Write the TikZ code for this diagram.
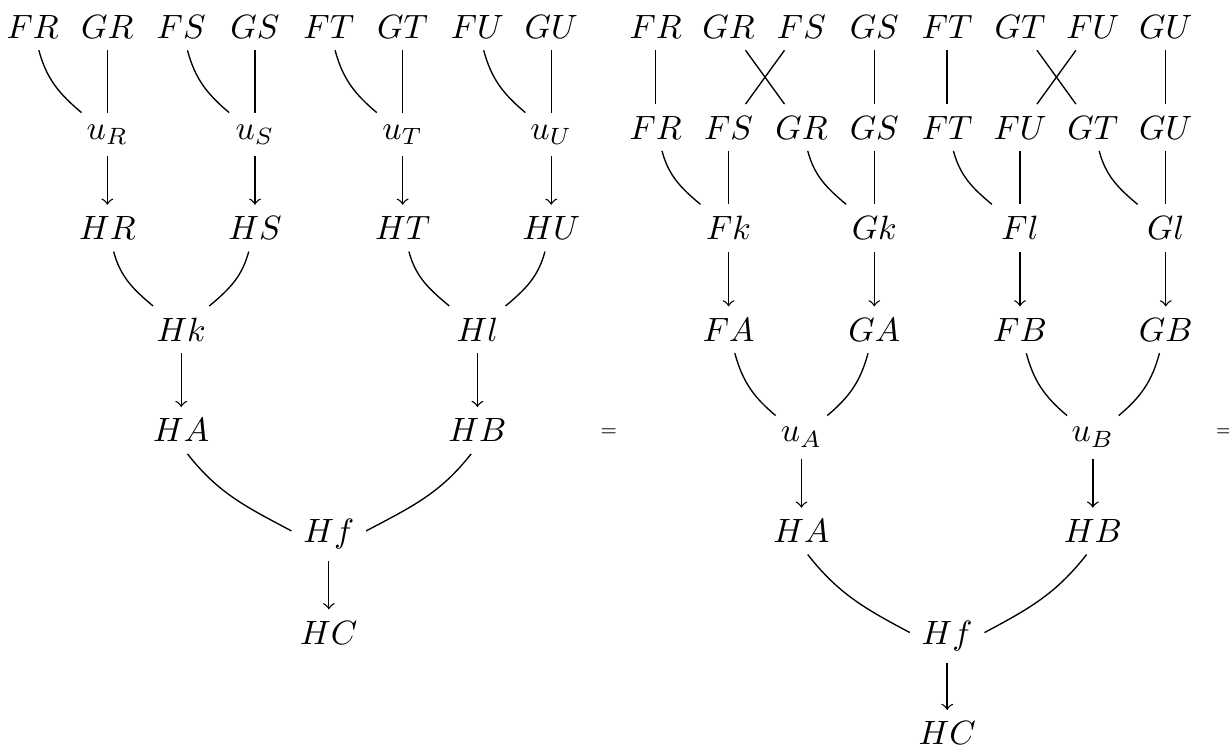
\documentclass[tikz,border=0pt]{standalone}
\usepackage{tikz}

\begin{document}
\begin{tikzpicture}[
    obj/.style={anchor=base},
    wire/.style={thin},
    arrow/.style={thin,->},
    eq/.style={font=\tiny},
    fromleft/.style={out=-75,in=140},
    fromright/.style={out=-105,in=40},
    wideleft/.style={out=-52,in=152},
    wideright/.style={out=-128,in=28}
]
\useasboundingbox (0,0) rectangle (12.82,-7.84);

% Left side, top row
\node[obj] (lFR) at (0.34,-0.40) {$FR$};
\node[obj] (lGR) at (1.12,-0.40) {$GR$};
\node[obj] (lFS) at (1.89,-0.40) {$FS$};
\node[obj] (lGS) at (2.66,-0.40) {$GS$};
\node[obj] (lFT) at (3.43,-0.40) {$FT$};
\node[obj] (lGT) at (4.20,-0.40) {$GT$};
\node[obj] (lFU) at (4.98,-0.40) {$FU$};
\node[obj] (lGU) at (5.75,-0.40) {$GU$};

% Left side, units
\node[obj] (luR) at (1.12,-1.45) {$u_R$};
\node[obj] (luS) at (2.66,-1.45) {$u_S$};
\node[obj] (luT) at (4.20,-1.45) {$u_T$};
\node[obj] (luU) at (5.75,-1.45) {$u_U$};

\node[obj] (lHR) at (1.12,-2.50) {$HR$};
\node[obj] (lHS) at (2.66,-2.50) {$HS$};
\node[obj] (lHT) at (4.20,-2.50) {$HT$};
\node[obj] (lHU) at (5.75,-2.50) {$HU$};

\node[obj] (lHk) at (1.89,-3.56) {$Hk$};
\node[obj] (lHl) at (4.98,-3.56) {$Hl$};

\node[obj] (lHA) at (1.89,-4.61) {$HA$};
\node[obj] (lHB) at (4.98,-4.61) {$HB$};

\node[obj] (lHf) at (3.43,-5.66) {$Hf$};
\node[obj] (lHC) at (3.43,-6.72) {$HC$};

% Right side, top row
\node[obj] (rFR) at (6.84,-0.40) {$FR$};
\node[obj] (rGR) at (7.60,-0.40) {$GR$};
\node[obj] (rFS) at (8.36,-0.40) {$FS$};
\node[obj] (rGS) at (9.12,-0.40) {$GS$};
\node[obj] (rFT) at (9.88,-0.40) {$FT$};
\node[obj] (rGT) at (10.64,-0.40) {$GT$};
\node[obj] (rFU) at (11.40,-0.40) {$FU$};
\node[obj] (rGU) at (12.16,-0.40) {$GU$};

% Right side, swapped row
\node[obj] (sFR) at (6.84,-1.45) {$FR$};
\node[obj] (sFS) at (7.60,-1.45) {$FS$};
\node[obj] (sGR) at (8.36,-1.45) {$GR$};
\node[obj] (sGS) at (9.12,-1.45) {$GS$};
\node[obj] (sFT) at (9.88,-1.45) {$FT$};
\node[obj] (sFU) at (10.64,-1.45) {$FU$};
\node[obj] (sGT) at (11.40,-1.45) {$GT$};
\node[obj] (sGU) at (12.16,-1.45) {$GU$};

\node[obj] (rFk) at (7.60,-2.50) {$Fk$};
\node[obj] (rGk) at (9.12,-2.50) {$Gk$};
\node[obj] (rFl) at (10.64,-2.50) {$Fl$};
\node[obj] (rGl) at (12.16,-2.50) {$Gl$};

\node[obj] (rFA) at (7.60,-3.56) {$FA$};
\node[obj] (rGA) at (9.12,-3.56) {$GA$};
\node[obj] (rFB) at (10.64,-3.56) {$FB$};
\node[obj] (rGB) at (12.16,-3.56) {$GB$};

\node[obj] (ruA) at (8.36,-4.61) {$u_A$};
\node[obj] (ruB) at (11.40,-4.61) {$u_B$};

\node[obj] (rHA) at (8.36,-5.66) {$HA$};
\node[obj] (rHB) at (11.40,-5.66) {$HB$};

\node[obj] (rHf) at (9.88,-6.72) {$Hf$};
\node[obj] (rHC) at (9.88,-7.77) {$HC$};

% Equals signs
\node[eq] (eq1) at (6.35,-4.51) {$=$};
\node[eq] (eq2) at (12.77,-4.51) {$=$};

% Left wires
\draw[wire] (lFR) to[fromleft] (luR);
\draw[wire] (lGR) -- (luR);
\draw[wire] (lFS) to[fromleft] (luS);
\draw[wire] (lGS) -- (luS);
\draw[wire] (lFT) to[fromleft] (luT);
\draw[wire] (lGT) -- (luT);
\draw[wire] (lFU) to[fromleft] (luU);
\draw[wire] (lGU) -- (luU);

\draw[arrow] (luR) -- (lHR);
\draw[arrow] (luS) -- (lHS);
\draw[arrow] (luT) -- (lHT);
\draw[arrow] (luU) -- (lHU);

\draw[wire] (lHR) to[fromleft] (lHk);
\draw[wire] (lHS) to[fromright] (lHk);
\draw[wire] (lHT) to[fromleft] (lHl);
\draw[wire] (lHU) to[fromright] (lHl);

\draw[arrow] (lHk) -- (lHA);
\draw[arrow] (lHl) -- (lHB);

\draw[wire] (lHA.-75) to[wideleft] (lHf.175);
\draw[wire] (lHB.-105) to[wideright] (lHf.5);

\draw[arrow] (lHf) -- (lHC);

% Right wires
\draw[wire] (rFR) -- (sFR);
\draw[wire] (rGR) -- (sGR);
\draw[wire] (rFS) -- (sFS);
\draw[wire] (rGS) -- (sGS);
\draw[wire] (rFT) -- (sFT);
\draw[wire] (rGT) -- (sGT);
\draw[wire] (rFU) -- (sFU);
\draw[wire] (rGU) -- (sGU);

\draw[wire] (sFR) to[fromleft] (rFk);
\draw[wire] (sFS) -- (rFk);
\draw[wire] (sGR) to[fromleft] (rGk);
\draw[wire] (sGS) -- (rGk);
\draw[wire] (sFT) to[fromleft] (rFl);
\draw[wire] (sFU) -- (rFl);
\draw[wire] (sGT) to[fromleft] (rGl);
\draw[wire] (sGU) -- (rGl);

\draw[arrow] (rFk) -- (rFA);
\draw[arrow] (rGk) -- (rGA);
\draw[arrow] (rFl) -- (rFB);
\draw[arrow] (rGl) -- (rGB);

\draw[wire] (rFA) to[fromleft] (ruA);
\draw[wire] (rGA) to[fromright] (ruA);
\draw[wire] (rFB) to[fromleft] (ruB);
\draw[wire] (rGB) to[fromright] (ruB);

\draw[arrow] (ruA) -- (rHA);
\draw[arrow] (ruB) -- (rHB);

\draw[wire] (rHA.-75) to[wideleft] (rHf.175);
\draw[wire] (rHB.-105) to[wideright] (rHf.5);

\draw[arrow] (rHf) -- (rHC);

\end{tikzpicture}
\end{document}
